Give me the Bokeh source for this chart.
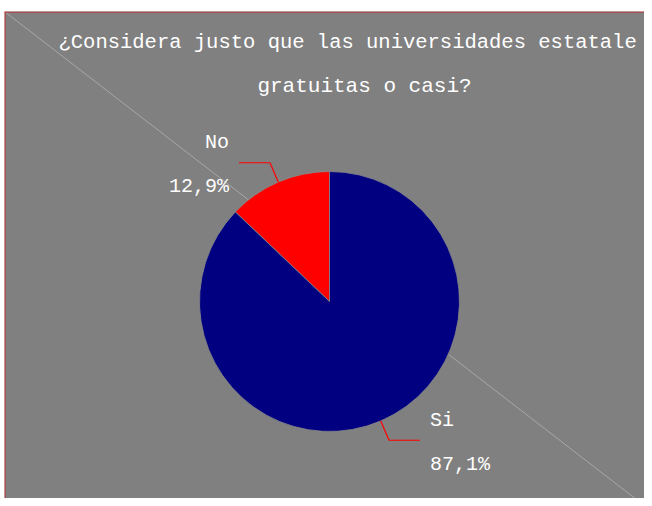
import numpy as np
from bokeh.plotting import figure
from bokeh.models import Range1d, ColumnDataSource, Span
from bokeh.core.properties import value
from bokeh.embed import file_html
from bokeh.resources import INLINE

# ---- data ----
categories = ["No", "Si"]
values = [12.9, 87.1]
colors = ["#ff0000", "#000080"]
title_lines = ["¿Considera justo que las universidades estatale", "gratuitas o casi?"]

FONT = "Liberation Mono"

p = figure(width=644, height=498, output_backend="svg", toolbar_location=None,
           x_range=Range1d(4, 644), y_range=Range1d(8, 495),
           min_border=0, min_border_top=11, min_border_left=4)
p.axis.visible = False
p.grid.visible = False
p.background_fill_color = "#808080"
p.border_fill_color = "#ffffff"
p.outline_line_color = None

# frame edges (red, left and top)
p.add_layout(Span(location=4.5, dimension="height", line_color="#cc2222", line_width=1))
p.add_layout(Span(location=494.5, dimension="width", line_color="#cc2222", line_width=1))

# decorative diagonal
p.segment(x0=[4], y0=[495], x1=[645], y1=[0], line_color="#b8b8b8", line_width=0.7)

# pie
cx, cy, r = 329, 205, 130
vals = np.array(values, dtype=float)
frac = vals / vals.sum()
start = np.pi / 2 + 2 * np.pi * np.concatenate([[0], np.cumsum(frac)[:-1]])
end = start + 2 * np.pi * frac
mid = (start + end) / 2
src = ColumnDataSource(dict(start=start, end=end, color=colors))
p.wedge(x=cx, y=cy, radius=r, start_angle="start", end_angle="end",
        fill_color="color", line_color="#8a8a8a", line_width=0.8, source=src)

# leader lines and labels
r2 = 151
xs, ys = [], []
lx, ly1, ly2, aligns, names, pcts = [], [], [], [], [], []
for cat, f, a in zip(categories, frac, mid):
    x0, y0 = cx + r * np.cos(a), cy + r * np.sin(a)
    x1, y1 = cx + r2 * np.cos(a), cy + r2 * np.sin(a)
    side = 1 if np.cos(a) >= 0 else -1
    x2 = x1 + side * 31
    xs.append([x0, x1, x2]); ys.append([y0, y1, y1])
    lx.append(x2 + side * 10)
    ly1.append(y1 + 20)
    ly2.append(y1 - 24)
    aligns.append("left" if side > 0 else "right")
    names.append(cat)
    pcts.append(("%.1f%%" % (f * 100)).replace(".", ","))
p.multi_line(xs=xs, ys=ys, line_color="#ff0000", line_width=1.2)

lab = ColumnDataSource(dict(x=lx, y1=ly1, y2=ly2, align=aligns, name=names, pct=pcts))
p.text(x="x", y="y1", text="name", text_align="align", text_baseline="middle",
       text_font=value(FONT), text_font_size="20px", text_color="#ffffff", source=lab)
p.text(x="x", y="y2", text="pct", text_align="align", text_baseline="middle",
       text_font=value(FONT), text_font_size="20px", text_color="#ffffff", source=lab)

# title
p.text(x=[58], y=[464], text=[title_lines[0]], text_align="left", text_baseline="middle",
       text_font=value(FONT), text_font_size="20.5px", text_color="#ffffff")
p.text(x=[364], y=[420], text=[title_lines[1]], text_align="center", text_baseline="middle",
       text_font=value(FONT), text_font_size="21px", text_color="#ffffff")

open("out.html", "w").write(file_html(p, INLINE))
